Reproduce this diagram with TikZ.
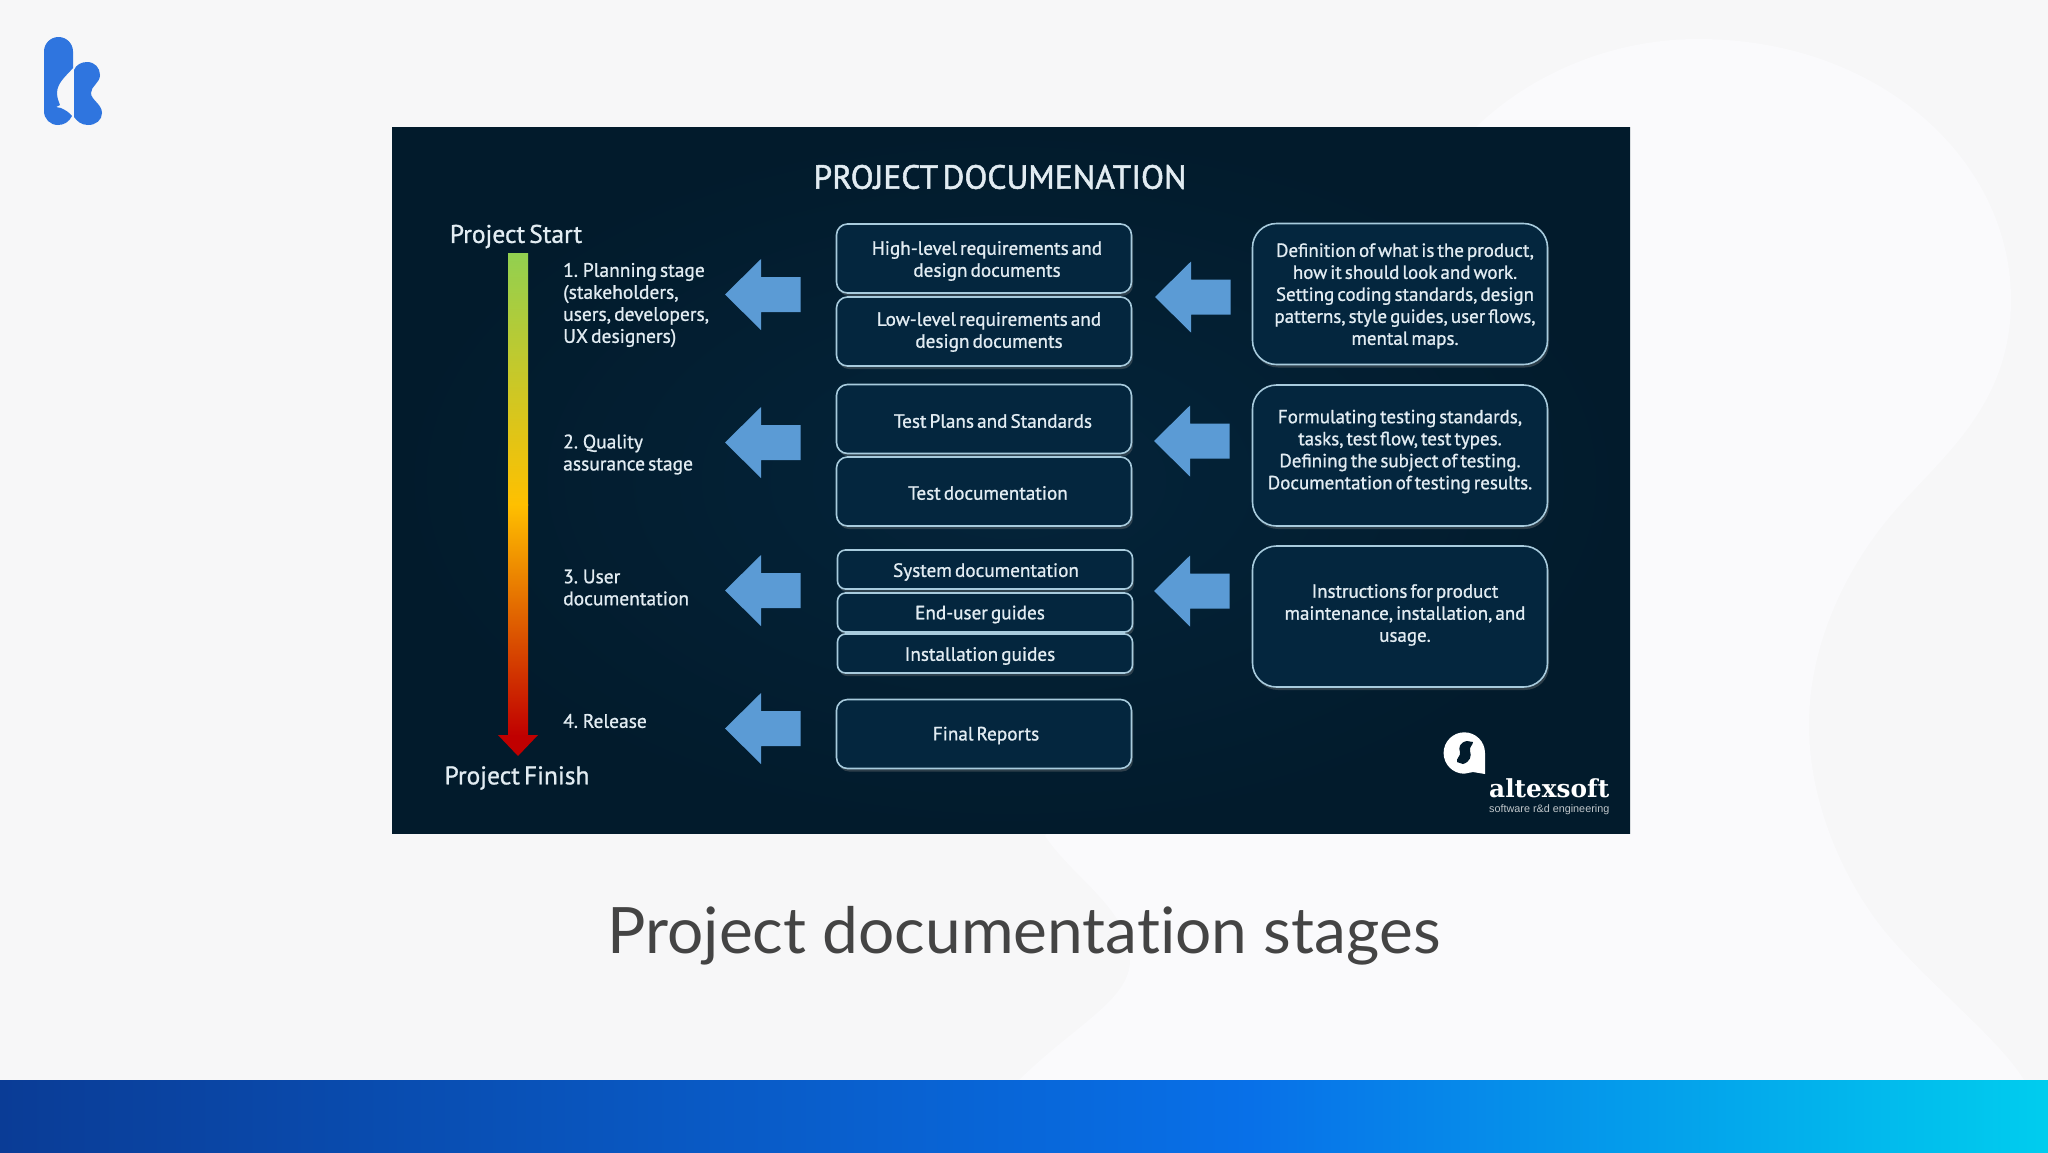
\documentclass[tikz,border=0pt]{standalone}
\usepackage{fontspec}
\setmainfont{PT Sans}
\newfontfamily\medfont{PT Sans}[FakeBold=1,WordSpace=0.6]
\newfontfamily\titlefont{PT Sans}[FakeBold=1.5,WordSpace=0.5]
\newfontfamily\capfont{Lato}[Ligatures=NoCommon]
\newfontfamily\logofont{DejaVu Serif}
\newfontfamily\logosans{Liberation Sans}
\usetikzlibrary{shadows}
\definecolor{pagebg}{HTML}{F7F7F8}
\definecolor{blobbg}{HTML}{FAFAFC}
\definecolor{panelin}{HTML}{04243A}
\definecolor{panelout}{HTML}{021B2C}
\definecolor{boxfill}{HTML}{04263E}
\definecolor{boxline}{HTML}{A8CBDD}
\definecolor{txtc}{HTML}{E2ECF2}
\definecolor{arrowc}{HTML}{5B9BD5}
\definecolor{logoblue}{HTML}{2F75DF}
\definecolor{capc}{HTML}{444444}
\definecolor{barg}{HTML}{92D050}
\definecolor{bary}{HTML}{FFC000}
\definecolor{barr}{HTML}{C00000}
\tikzset{
  docbox/.style={draw=boxline,line width=1.6pt,fill=boxfill,rounded corners=11pt,inner sep=0pt,
    drop shadow={opacity=.35,shadow xshift=1.5pt,shadow yshift=-3pt}},
  infobox/.style={docbox,rounded corners=24pt},
  bodytext/.style={text=txtc,inner sep=0pt,align=center,font=\medfont\fontsize{19.2}{22}\selectfont},
  infotext/.style={bodytext,font=\medfont\fontsize{19}{22}\selectfont},
  stagetext/.style={bodytext,align=left,anchor=west,font=\medfont\fontsize{19.5}{22}\selectfont},
  endtext/.style={text=txtc,inner sep=0pt,font=\medfont\fontsize{25.5}{30}\selectfont},
  blockarrow/.style={fill=arrowc}
}
\newcommand{\blockarrow}[2]{%
  \fill[blockarrow,shift={(#1,#2)}] (0,0) -- (36,-35.5) -- (36,-17.5) -- (75.5,-17.5) -- (75.5,17.5) -- (36,17.5) -- (36,35.5) -- cycle;}
\begin{document}
\begin{tikzpicture}[x=1pt,y=-1pt]
\useasboundingbox (0,0) rectangle (2048,1152);
% page background
\fill[pagebg] (0,0) rectangle (2048,1152);
\fill[blobbg] (1019,1080) .. controls (1075,1025) and (1130,1000) .. (1130,960)
  .. controls (1130,910) and (1075,880) .. (1045,836) -- (1300,400)
  -- (1476,127) .. controls (1530,75) and (1610,39) .. (1698,39)
  .. controls (1880,39) and (2011,160) .. (2011,300)
  .. controls (2011,400) and (1950,450) .. (1900,505)
  .. controls (1850,560) and (1809,640) .. (1809,725)
  .. controls (1809,810) and (1850,890) .. (1887,934)
  .. controls (1930,985) and (2000,1040) .. (2024,1080) -- cycle;
% bottom band
\fill[left color={rgb,255:red,10;green,60;blue,150},right color={rgb,255:red,8;green,112;blue,232}] (0,1080) rectangle (1250,1152);
\fill[left color={rgb,255:red,8;green,112;blue,232},right color={rgb,255:red,0;green,205;blue,238}] (1249,1080) rectangle (2048,1152);
% k logo
\fill[logoblue] (44,51.5) arc[start angle=180,end angle=360,radius=14.5] -- (73,68)
  .. controls (66,76) and (57,83) .. (57,93)
  .. controls (57,98) and (59,102) .. (60,105) -- (56,107) -- (61,108)
  .. controls (65,110) and (69,112) .. (72,116)
  .. controls (69,122) and (64,125) .. (58,125)
  .. controls (50,125) and (44,119) .. (44,111) -- cycle;
\fill[logoblue] (74,70) .. controls (76,65) and (81,62) .. (87,62)
  .. controls (95,62) and (100,68) .. (100,75)
  .. controls (100,83) and (91,86) .. (91,93)
  .. controls (91,100) and (102,104) .. (102,113)
  .. controls (102,120) and (96,125) .. (88,125)
  .. controls (81,125) and (77,121) .. (74,117) -- cycle;
% panel
\shade[inner color=panelin,outer color=panelout] (392,127) rectangle (1630,833);
\node[text=txtc,inner sep=0pt,font=\titlefont\fontsize{33.5}{36}\selectfont] (title) at (1000,177) {PROJECT DOCUMENATION};
% timeline
\node[endtext] (pstart) at (516,236.5) {Project Start};
\node[endtext] (pfinish) at (517,778) {Project Finish};
\fill[top color=barg,bottom color=bary,middle color=barg!50!bary] (508,253) rectangle (528,505);
\fill[top color=bary,bottom color=barr] (508,504) rectangle (528,736);
\fill[barr] (498,735) -- (538,735) -- (518,756) -- cycle;
% stages
\node[stagetext] (s1) at (563,305) {1. Planning stage\\(stakeholders,\\users, developers,\\UX designers)};
\node[stagetext] (s2) at (563,454.5) {2. Quality\\assurance stage};
\node[stagetext] (s3) at (563,587.5) {3. User\\documentation};
\node[stagetext] (s4) at (563,721) {4. Release};
% left arrows
\blockarrow{725}{294.5}
\blockarrow{725}{442.5}
\blockarrow{725}{590.5}
\blockarrow{725}{728.5}
% documents
\node[docbox,minimum width=295pt,minimum height=69pt] (b1) at (984,258.5) {};
\node[docbox,minimum width=295pt,minimum height=69pt] (b2) at (984,331.5) {};
\node[docbox,minimum width=295pt,minimum height=69pt] (b3) at (984,419) {};
\node[docbox,minimum width=295pt,minimum height=69pt] (b4) at (984,491.5) {};
\node[docbox,minimum width=295pt,minimum height=39pt,rounded corners=8pt] (b5) at (985,569.5) {};
\node[docbox,minimum width=295pt,minimum height=39pt,rounded corners=8pt] (b6) at (985,612.5) {};
\node[docbox,minimum width=295pt,minimum height=39pt,rounded corners=8pt] (b7) at (985,653.5) {};
\node[docbox,minimum width=295pt,minimum height=69pt] (b8) at (984,734) {};
\node[bodytext] (t1) at (987,261) {High-level requirements and\\design documents};
\node[bodytext] (t2) at (989,332) {Low-level requirements and\\design documents};
\node[bodytext] (t3) at (993,421) {Test Plans and Standards};
\node[bodytext] (t4) at (988,493) {Test documentation};
\node[bodytext] (t5) at (986,572) {System documentation};
\node[bodytext] (t6) at (980,614.5) {End-user guides};
\node[bodytext] (t7) at (980,656) {Installation guides};
\node[bodytext] (t8) at (986,735.5) {Final Reports};
% right arrows
\blockarrow{1155}{297}
\blockarrow{1154}{441}
\blockarrow{1154}{591}
% info boxes
\node[infobox,minimum width=295pt,minimum height=141pt] (i1) at (1400,294) {};
\node[infobox,minimum width=295pt,minimum height=141pt] (i2) at (1400,455.5) {};
\node[infobox,minimum width=295pt,minimum height=141pt] (i3) at (1400,616.5) {};
\node[infotext] (it1) at (1405,296) {Definition of what is the product,\\how it should look and work.\\Setting coding standards, design\\patterns, style guides, user flows,\\mental maps.};
\node[infotext] (it2) at (1400,451.5) {Formulating testing standards,\\tasks, test flow, test types.\\Defining the subject of testing.\\Documentation of testing results.};
\node[infotext] (it3) at (1405,615) {Instructions for product\\maintenance, installation, and\\usage.};
% altexsoft logo
\fill[white] (1485,774) -- (1485,753) arc[start angle=0,end angle=-270,radius=20.7] -- (1473,772) -- cycle;
\fill[panelout] (1467,741) .. controls (1460,742) and (1458,748) .. (1460,752)
  .. controls (1461,756) and (1456,758) .. (1457,762) -- (1463,764)
  .. controls (1470,762) and (1472,756) .. (1470,751)
  .. controls (1469,747) and (1473,745) .. (1473,742) -- cycle;
\node[text=white,inner sep=0pt,anchor=base west,font=\fontsize{24.8}{28}\selectfont\logofont\bfseries] (alt) at (1489,797) {altexsoft};
\node[text=white!75!panelout,inner sep=0pt,anchor=base west,font=\fontsize{10.8}{12}\selectfont\logosans] (altsub) at (1489,812) {software r\&d engineering};
% caption
\node[text=capc,inner sep=0pt,font=\fontsize{64}{72}\selectfont\capfont] (caption) at (1024,936) {Project documentation stages};
\end{tikzpicture}
\end{document}
